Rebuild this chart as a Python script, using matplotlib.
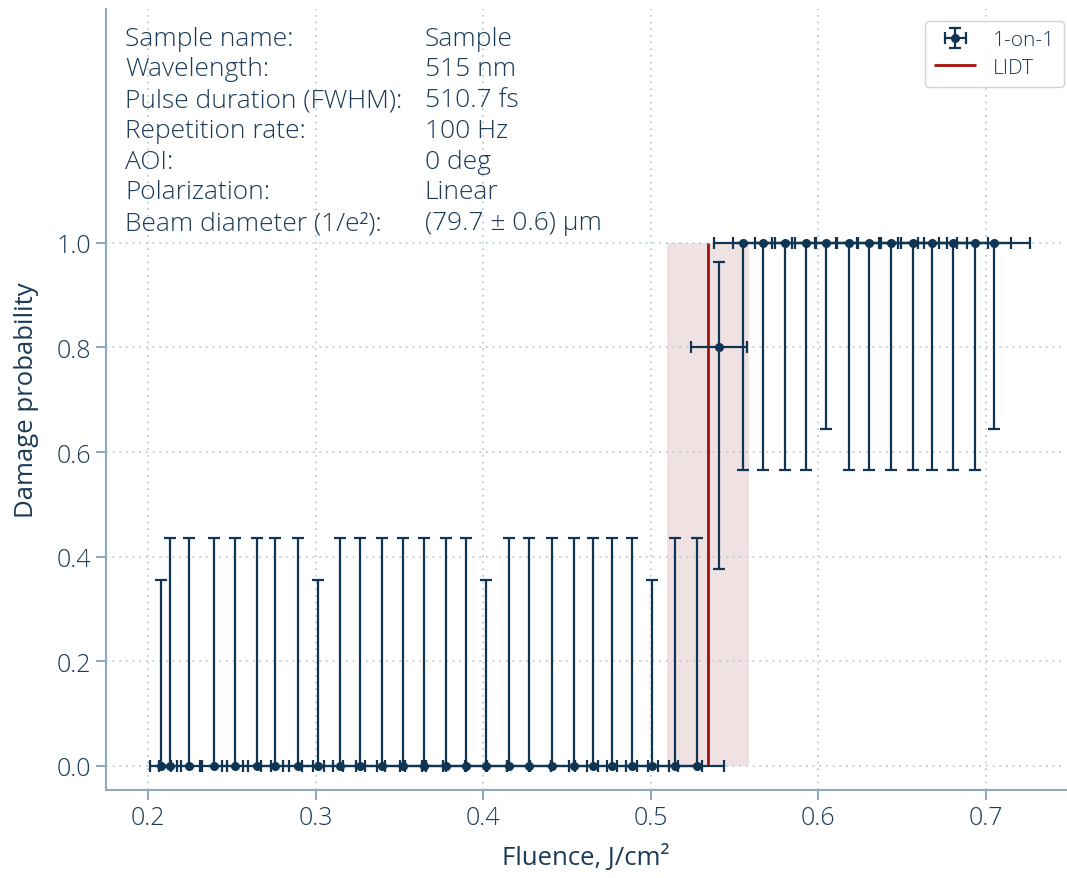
import matplotlib
matplotlib.use("Agg")
import matplotlib.pyplot as plt

plt.rcParams['font.family'] = ['Open Sans', 'DejaVu Sans']
plt.rcParams['font.weight'] = 'light'

# 1-on-1 test results (fluence in J/cm2, damage probability)
fluence = [0.2074, 0.2130, 0.2241, 0.2394, 0.2516, 0.2648, 0.2757, 0.2896,
           0.3012, 0.3145, 0.3265, 0.3398, 0.3523, 0.3645, 0.3778, 0.3898,
           0.4016, 0.4153, 0.4272, 0.4410, 0.4545, 0.4657, 0.4770, 0.4891,
           0.5007, 0.5146, 0.5274, 0.5410,
           0.5550, 0.5670, 0.5803, 0.5927, 0.6047, 0.6182, 0.6301, 0.6435,
           0.6567, 0.6682, 0.6805, 0.6939, 0.7048]
fluence_err = [0.0064, 0.0066, 0.0069, 0.0074, 0.0078, 0.0082, 0.0085, 0.0090,
               0.0093, 0.0097, 0.0101, 0.0105, 0.0109, 0.0113, 0.0117, 0.0121,
               0.0124, 0.0129, 0.0132, 0.0137, 0.0141, 0.0144, 0.0148, 0.0152,
               0.0155, 0.0160, 0.0163, 0.0168,
               0.0172, 0.0176, 0.0180, 0.0184, 0.0187, 0.0192, 0.0195, 0.0199,
               0.0204, 0.0207, 0.0211, 0.0215, 0.0218]
prob = [0.0] * 27 + [0.8] + [1.0] * 13
prob_err_low = [0.0] * 27 + [0.424] + [0.435, 0.435, 0.435, 0.435, 0.355, 0.435, 0.435,
                                       0.435, 0.435, 0.435, 0.435, 0.435, 0.355]
prob_err_high = [0.355, 0.435, 0.435, 0.435, 0.435, 0.435, 0.435, 0.435,
                 0.355, 0.435, 0.435, 0.435, 0.435, 0.435, 0.435, 0.435,
                 0.355, 0.435, 0.435, 0.435, 0.435, 0.435, 0.435, 0.435,
                 0.355, 0.435, 0.435, 0.164] + [0.0] * 13

lidt = 0.534
lidt_low = 0.510
lidt_high = 0.559

info_labels = ["Sample name:", "Wavelength:", "Pulse duration (FWHM):",
               "Repetition rate:", "AOI:", "Polarization:", "Beam diameter (1/e²):"]
info_values = ["Sample", "515 nm", "510.7 fs", "100 Hz", "0 deg", "Linear",
               "(79.7 ± 0.6) µm"]

dark = '#0f3552'
text_c = '#1b3a58'
spine_c = '#93aabb'

fig = plt.figure(figsize=(10.67, 8.79), dpi=100)
ax = fig.add_axes([0.0993, 0.1001, 0.8997, 0.8885])

ax.fill_betweenx([0, 1], lidt_low, lidt_high, color='#f0e2e3', lw=0, zorder=0.2)
ax.vlines(lidt, 0, 1, color='#a3100b', lw=2, zorder=3, label='LIDT')
ax.errorbar(fluence, prob, xerr=fluence_err, yerr=[prob_err_low, prob_err_high],
            fmt='o', color=dark, ms=5.5, elinewidth=1.6, capsize=4, capthick=1.6,
            zorder=4, label='1-on-1')

ax.set_xlim(0.1747, 0.748)
ax.set_ylim(-0.046, 1.447)
ax.set_xticks([0.2, 0.3, 0.4, 0.5, 0.6, 0.7])
ax.set_yticks([0.0, 0.2, 0.4, 0.6, 0.8, 1.0])
ax.grid(True, linestyle=(0, (1, 3)), color='#b5c6d2', lw=1.2, zorder=0.5)
ax.set_axisbelow(True)

for s in ['top', 'right']:
    ax.spines[s].set_visible(False)
for s in ['left', 'bottom']:
    ax.spines[s].set_color(spine_c)
    ax.spines[s].set_linewidth(1.5)
ax.tick_params(colors=spine_c, labelcolor=text_c, labelsize=18, length=7, width=1.5)

ax.set_xlabel("Fluence, J/cm²", fontsize=18.5, color=text_c, labelpad=10)
ax.set_ylabel("Damage probability", fontsize=18.5, color=text_c, labelpad=13)

y0 = 0.9545
step = 0.0394
for i in range(len(info_labels)):
    ax.text(0.0198, y0 - i * step, info_labels[i], transform=ax.transAxes,
            fontsize=19, color=text_c, va='baseline')
    ax.text(0.332, y0 - i * step, info_values[i], transform=ax.transAxes,
            fontsize=19, color=text_c, va='baseline')

handles, labels = ax.get_legend_handles_labels()
leg = ax.legend(handles[::-1], labels[::-1], loc='upper right', fontsize=15,
                bbox_to_anchor=(1.009, 0.998), frameon=True, fancybox=True,
                edgecolor='#cccccc', framealpha=0.85, borderpad=0.45,
                labelspacing=0.35)
for t in leg.get_texts():
    t.set_color(text_c)

plt.savefig("out.png", dpi=100)
